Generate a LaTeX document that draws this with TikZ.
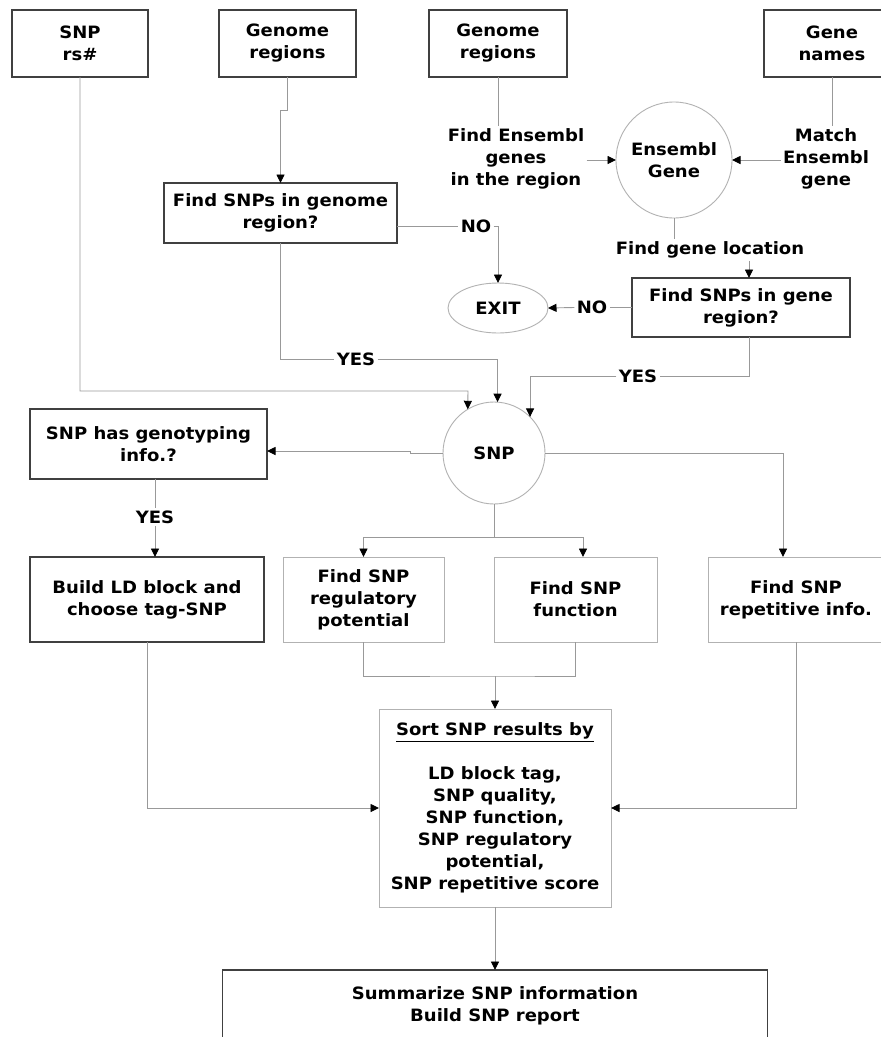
\documentclass[tikz,border=0pt]{standalone}
\usepackage{fontspec}
\setmainfont{DejaVu Sans}[FakeStretch=1.06]
\usetikzlibrary{arrows.meta,shapes.geometric}
\begin{document}
\begin{tikzpicture}[x=1pt,y=-1pt,
  every node/.style={font=\fontsize{17}{22}\selectfont\bfseries, align=center, outer sep=0pt},
  dbox/.style={draw=black!75, line width=1.3pt, inner sep=0pt},
  lbox/.style={draw=black!30, line width=0.9pt, inner sep=0pt},
  lcirc/.style={circle, draw=black!30, line width=0.9pt, inner sep=0pt},
  txt/.style={inner sep=2.5pt},
  conn/.style={draw=black!40, line width=0.9pt},
  arr/.style={conn, -{Triangle[width=8pt,length=8.5pt,color=black]}},
]
\useasboundingbox (0,0) rectangle (881,1037);
\clip (0,0) rectangle (881,1037);
\fill[white] (0,0) rectangle (881,1037);

% nodes
\node[dbox, minimum width=136pt, minimum height=67pt] (snprs) at (80,43.5) {SNP\\rs\#};
\node[dbox, minimum width=137pt, minimum height=67pt] (gr1) at (287.5,43.5) {Genome\\regions};
\node[dbox, minimum width=138pt, minimum height=67pt] (gr2) at (498,43.5) {Genome\\regions};
\node[dbox, minimum width=136pt, minimum height=67pt] (gn) at (832,43.5) {Gene\\names};
\node[txt] (fe) at (516,159) {Find Ensembl\\genes\\in the region};
\node[lcirc, minimum size=116pt] (ens) at (674,160) {Ensembl\\Gene};
\node[txt] (me) at (826,159) {Match\\Ensembl\\gene};
\node[dbox, minimum width=233pt, minimum height=60pt] (fsg) at (280.5,213) {Find SNPs in genome\\region?};
\node[txt] (no1) at (476,226) {NO};
\node[ellipse, draw=black!30, line width=0.9pt, minimum width=100pt, minimum height=50pt, inner sep=0pt] (exit) at (498,308) {EXIT};
\node[txt] (fgl) at (710,250) {Find gene location};
\node[dbox, minimum width=218pt, minimum height=59pt] (gsr) at (741,307.5) {Find SNPs in gene\\region?};
\node[txt] (no2) at (592,307.5) {NO};
\node[txt] (yes1) at (356,359) {YES};
\node[txt] (yes2) at (638,376) {YES};
\node[lcirc, minimum size=102pt] (snp) at (494,453) {SNP};
\node[dbox, minimum width=237pt, minimum height=70pt] (gt) at (148.5,444) {SNP has genotyping\\info.?};
\node[txt] (yes3) at (155,517) {YES};
\node[dbox, minimum width=234pt, minimum height=85pt] (ld) at (147,599.5) {Build LD block and\\choose tag-SNP};
\node[lbox, minimum width=161pt, minimum height=85pt] (reg) at (363.5,599.5) {Find SNP\\regulatory\\potential};
\node[lbox, minimum width=163pt, minimum height=85pt] (fn) at (575.5,599.5) {Find SNP\\function};
\node[lbox, minimum width=176pt, minimum height=85pt] (rep) at (796,599.5) {Find SNP\\repetitive info.};
\node[lbox, minimum width=232pt, minimum height=198pt] (sort) at (495,808) {\underline{Sort SNP results by}\\[22pt]LD block tag,\\SNP quality,\\SNP function,\\SNP regulatory\\potential,\\SNP repetitive score};
\node[dbox, minimum width=545pt, minimum height=72pt] (summ) at (495,1006) {Summarize SNP information\\Build SNP report};

% helper coordinates
\coordinate (b1) at (468,391);
\coordinate (gx) at (749,0);
\coordinate (jg) at (410,451);
\coordinate (yx) at (155,0);
\coordinate (sp) at (494,537);
\coordinate (fx) at (583,0);
\coordinate (rx) at (783,0);
\coordinate (mj) at (495,676);

% connectors
\draw[arr] (snprs.south) |- (b1) -- (snp.121);
\draw[arr] (gr1.south) -- ++(0,33) -| (fsg.north);
\draw[conn] (fsg.south) |- (yes1.west);
\draw[arr] (yes1.east) -| (snp.86);
\draw[conn] (fsg.east |- no1) -- (no1.west);
\draw[arr] (no1.east) -| (exit.north);
\draw[conn] (gr2.south) -- (gr2.south |- fe.north);
\draw[arr] (fe.east |- ens) -- (ens.west);
\draw[conn] (gn.south) -- (gn.south |- me.north);
\draw[arr] (me.west |- ens) -- (ens.east);
\draw[conn] (ens.south) -- (ens.south |- fgl.north);
\draw[arr] (fgl.south -| gx) -- (gsr.north -| gx);
\draw[conn] (gsr.west) -- (no2.east);
\draw[arr] (no2.west) -- (exit.east);
\draw[conn] (gsr.south -| gx) |- (yes2.east);
\draw[arr] (yes2.west) -| (snp.45);
\draw[arr] (snp.west) -| (jg) -- (jg -| gt.east);
\draw[conn] (gt.south -| yx) -- (yes3.north);
\draw[arr] (yes3.south) -- (ld.north -| yx);
\draw[conn] (snp.south) -- (sp);
\draw[arr] (sp) -| (reg.north);
\draw[arr] (sp) -| (fn.north -| fx);
\draw[arr] (snp.east) -| (rep.north -| rx);
\draw[conn] (reg.south) |- (mj) -| (fn.south);
\draw[arr] (mj) -- (sort.north);
\draw[arr] (ld.south) |- (sort.west);
\draw[arr] (rep.south) |- (sort.east);
\draw[arr] (sort.south) -- (summ.north);
\end{tikzpicture}
\end{document}
